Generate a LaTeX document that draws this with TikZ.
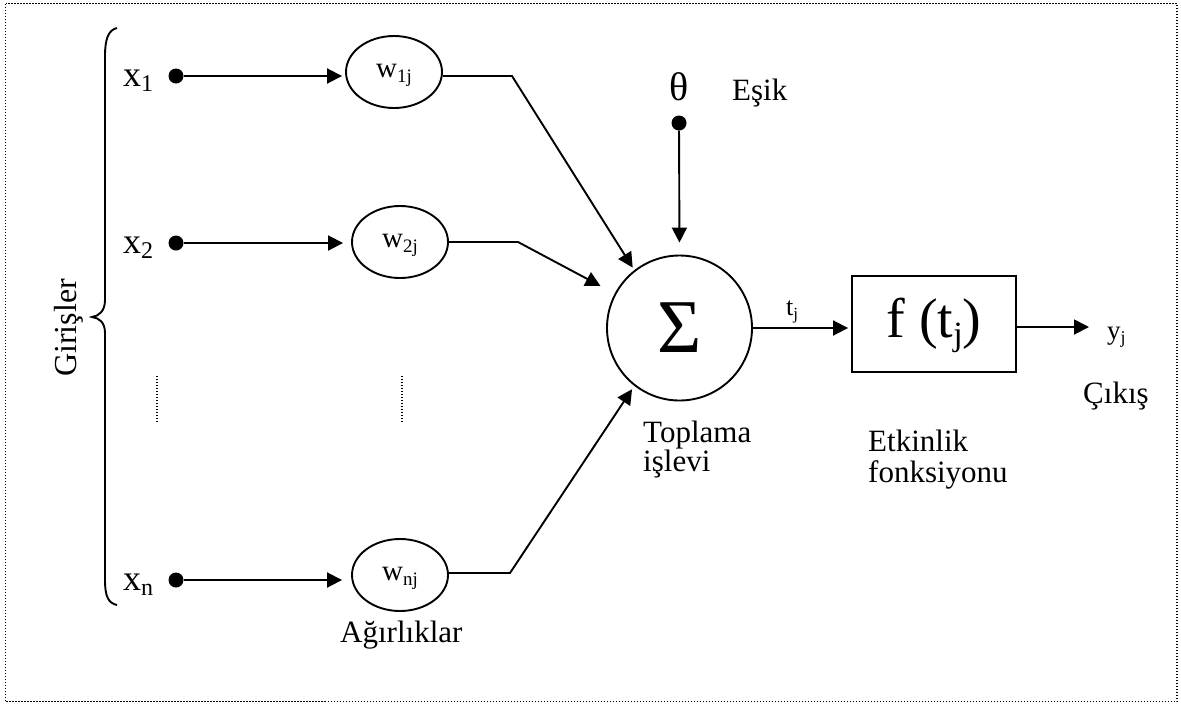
\documentclass[tikz,border=0pt]{standalone}
\usepackage{fontspec}
\setmainfont{Liberation Serif}
\usetikzlibrary{arrows.meta,shapes.geometric}
\newcommand\fs[1]{\fontsize{#1}{#1}\selectfont}
\newcommand\mysub[3]{\raisebox{-#1pt}[0pt][0pt]{\fontsize{#2}{#2}\selectfont #3}}
\newcommand\wlab[1]{\raisebox{-5pt}[0pt][0pt]{\fs{29}w\mysub{5}{19}{#1}}}
\tikzset{
  conn/.style={line width=1.9pt},
  arr/.style={conn,-{Triangle[length=15pt,width=15pt]}},
  dotnode/.style={circle,fill=black,inner sep=0pt,minimum size=15pt},
  wnode/.style={ellipse,draw,line width=1.9pt,inner sep=0pt,minimum width=96pt,minimum height=72pt},
  lbl/.style={inner sep=0pt,anchor=base west,font=\fs{31}},
  frame/.style={line width=1.4pt,dash pattern=on 1.4pt off 1.6pt},
  vdots/.style={line width=1.2pt,dash pattern=on 1.2pt off 1.8pt}
}
\begin{document}
\begin{tikzpicture}[x=1pt,y=-1pt]
\useasboundingbox (0,0) rectangle (1181,705);
% frame
\draw[frame] (5.5,3.5) rectangle (1177,701.5);
% brace
\draw[line width=1.9pt] (117,28) .. controls (108,30) and (105,40) .. (105,56) -- (105,300)
  .. controls (105,311) and (99,316) .. (92,317) .. controls (99,318) and (105,322) .. (105,333)
  -- (105,580) .. controls (105,596) and (108,603) .. (117,605);
\node[inner sep=0pt,rotate=90,anchor=base,font=\fs{32}] (gir) at (76,328) {Girişler};
% inputs
\node[lbl] (x1l) at (123,86) {\fs{36}x\mysub{5}{24}{1}};
\node[lbl] (x2l) at (123,253) {\fs{36}x\mysub{5}{24}{2}};
\node[lbl] (xnl) at (123,590) {\fs{36}x\mysub{5}{24}{n}};
\node[dotnode] (d1) at (176,76) {};
\node[dotnode] (d2) at (176,243) {};
\node[dotnode] (dn) at (176,580) {};
% weights
\node[wnode] (w1) at (394,72) {\wlab{1j}};
\node[wnode] (w2) at (400,242) {\wlab{2j}};
\node[wnode] (wn) at (400,575) {\wlab{nj}};
\node[lbl] (agir) at (340,642) {Ağırlıklar};
% dotted
\draw[vdots] (157,376) -- (157,422);
\draw[vdots] (402,376) -- (402,422);
% sum
\node[circle,draw,line width=1.9pt,inner sep=0pt,minimum size=145pt] (s) at (679.5,328) {\fs{76}Σ};
\node[lbl] (top1) at (643,442) {Toplama};
\node[lbl] (top2) at (643,471) {işlevi};
% threshold
\node[inner sep=0pt,anchor=base,font=\fs{40}] (th) at (679,100) {θ};
\node[lbl] (esik) at (732,100) {Eşik};
\node[dotnode] (dth) at (679,123) {};
% activation
\node[draw,line width=1.9pt,inner sep=0pt,minimum width=164pt,minimum height=96pt] (f) at (934,324) {\fs{56}f (t\mysub{8}{34}{j})};
\node[lbl] (tj) at (786,315) {\fs{26}t\mysub{4}{17}{j}};
\node[lbl] (et1) at (868,451) {Etkinlik};
\node[lbl] (et2) at (868,482) {fonksiyonu};
\node[lbl] (yj) at (1107,339) {\fs{27}y\mysub{4}{18}{j}};
\node[lbl] (cik) at (1083,403) {Çıkış};
% connectors
\coordinate (c1) at (512,76);
\coordinate (c2) at (518,242);
\coordinate (cn) at (510,573);
\coordinate (yo) at (1089,327);
\draw[arr,shorten >=3pt] (d1) -- (d1 -| w1.west);
\draw[arr,shorten >=8pt] (d2) -- (d2 -| w2.west);
\draw[arr,shorten >=9pt] (dn) -- (dn -| wn.west);
\draw[arr,shorten >=3pt] (c1 -| w1.east) -- (c1) -- (s.128);
\draw[arr,shorten >=16pt] (w2.east) -- (c2) -- (s.152);
\draw[arr,shorten >=4pt] (cn -| wn.east) -- (cn) -- (s.232);
\draw[arr,shorten >=12pt] (dth) -- (s.north);
\draw[arr,shorten >=3pt] (s.east) -- (s.east -| f.west);
\draw[arr] (yo -| f.east) -- (yo);
\end{tikzpicture}
\end{document}
